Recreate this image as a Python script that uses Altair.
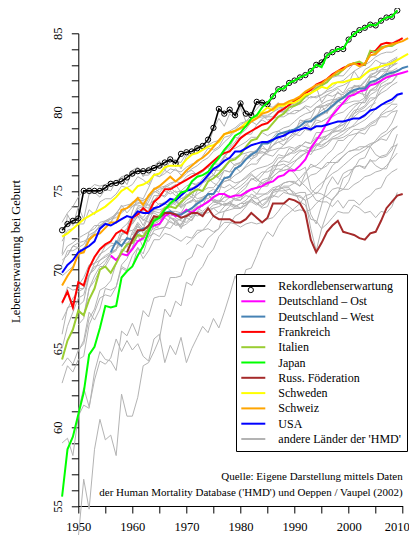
import altair as alt
import pandas as pd

FONT = "Liberation Serif"

# ---------------- legend groups / colours ----------------
groups = ["Rekordlebenserwartung", "Deutschland – Ost", "Deutschland – West", "Frankreich",
          "Italien", "Japan", "Russ. Föderation", "Schweden", "Schweiz", "USA",
          "andere Länder der 'HMD'"]
group_colors = ["#000000", "#FF00FF", "#4682B4", "#FF0000", "#9ACD32", "#00FF00",
                "#A52A2A", "#FFFF00", "#FFA500", "#0000FF", "#B3B3B3"]

# ---------------- record life expectancy (female) ----------------
record_start = 1947
record = [72.5, 72.9, 73.1, 73.25, 75.0, 75.0, 75.0, 75.0, 75.2, 75.45,
          75.5, 75.6, 75.85, 76.1, 76.25, 76.25, 76.3, 76.45, 76.6, 76.8,
          77.0, 76.75, 77.35, 77.45, 77.5, 77.7, 77.85, 78.25, 79.0, 80.2,
          79.9, 80.15, 79.8, 80.55, 79.9, 79.8, 80.65, 80.6, 80.5, 81.0,
          81.45, 81.5, 81.85, 82.0, 82.2, 82.35, 82.6, 83.0, 83.15, 83.6,
          83.8, 84.0, 84.0, 84.6, 84.95, 85.2, 85.35, 85.55, 85.5, 85.8,
          86.0, 86.05, 86.45]

# ---------------- highlighted countries ----------------
ost = [70.9, 70.6, 71.0, 70.9, 71.3, 71.8, 72.0, 72.6, 72.8, 72.9,
       73.4, 73.6, 73.4, 73.5, 73.8, 73.6, 73.9, 74.1, 74.3, 74.6,
       74.8, 74.8, 74.6, 74.7, 74.7, 74.9, 75.1, 75.2, 75.3, 75.5,
       75.6, 75.9, 76.0, 76.3, 76.3, 76.6, 77.0, 77.7, 78.2, 78.7,
       79.3, 79.8, 80.2, 80.6, 81.0, 81.1, 81.3, 81.4, 81.7, 81.8,
       82.0, 82.2, 82.3, 82.4, 82.5, 82.6]
west = [71.1, 71.8, 71.5, 72.0, 71.9, 72.4, 72.6, 72.7, 73.3, 73.3,
        73.6, 73.7, 73.5, 73.5, 73.7, 73.9, 74.2, 74.4, 74.8, 74.8,
        75.3, 75.8, 75.9, 76.4, 76.6, 77.0, 77.3, 77.5, 78.0, 78.0,
        78.2, 78.6, 78.7, 78.8, 78.9, 79.1, 79.4, 79.4, 79.7, 79.9,
        80.1, 80.4, 80.7, 80.9, 81.2, 81.4, 81.5, 81.5, 81.9, 82.0,
        82.2, 82.4, 82.5, 82.6, 82.8, 82.9]
frankreich = [67.9, 68.6, 67.6, 69.2, 69.0, 70.1, 70.8, 71.3, 71.6, 71.8,
              72.3, 72.5, 72.3, 73.3, 73.5, 73.9, 73.6, 74.3, 74.6, 75.1,
              75.1, 75.3, 75.5, 75.7, 75.9, 76.1, 76.3, 76.6, 76.9, 77.2,
              77.4, 77.5, 77.9, 78.35, 78.6, 78.8, 79.0, 79.2, 79.3, 79.6,
              80.0, 80.2, 80.45, 80.7, 80.9, 81.2, 81.4, 81.75, 81.9, 82.1,
              82.4, 82.6, 82.8, 82.95, 83.1, 83.05, 83.0, 83.8, 83.9, 84.3,
              84.4, 84.35, 84.5, 84.7]
italien = [64.3, 65.5, 66.2, 67.4, 67.1, 68.1, 68.8, 70.0, 70.2, 69.8,
           70.4, 71.1, 71.6, 71.7, 72.2, 72.1, 72.6, 73.3, 73.4, 73.9,
           74.0, 73.9, 74.3, 74.6, 74.9, 75.1, 75.0, 75.6, 75.8, 76.1,
           76.5, 76.9, 77.0, 77.3, 77.8, 78.2, 78.3, 78.8, 78.9, 79.3,
           79.7, 79.9, 80.3, 80.4, 80.6, 81.0, 81.2, 81.5, 81.7, 81.9,
           82.3, 82.4, 82.7, 83.0, 83.1, 83.2, 83.0, 83.9, 83.8, 84.1,
           84.2, 84.2, 84.4]
japan = [55.6, 58.6, 59.4, 60.8, 62.2, 64.6, 65.1, 66.3, 67.7, 67.6,
         67.7, 69.5, 69.9, 70.2, 70.9, 71.5, 72.4, 73.1, 73.3, 73.8,
         74.2, 74.5, 74.9, 75.0, 75.6, 75.9, 76.0, 76.2, 76.7, 77.1,
         77.6, 78.0, 78.5, 78.7, 79.1, 79.6, 79.8, 80.3, 80.6, 81.0,
         81.45, 81.5, 81.85, 82.0, 82.2, 82.35, 82.6, 83.0, 82.85, 83.6,
         83.8, 84.0, 84.0, 84.6, 84.95, 85.2, 85.35, 85.55, 85.5, 85.8,
         86.0, 86.05, 86.45]
russland = [71.1, 71.9, 72.5, 72.5, 72.8, 73.4, 73.3, 73.6, 73.6, 73.5,
            73.3, 73.4, 73.6, 73.6, 73.4, 73.9, 73.4, 73.2, 73.2, 73.2,
            73.0, 73.0, 73.2, 73.6, 73.3, 73.0, 73.3, 74.2, 74.2, 74.2,
            74.5, 74.4, 74.2, 73.6, 71.9, 71.1, 71.7, 72.4, 72.8, 73.1,
            72.4, 72.3, 72.2, 72.0, 71.9, 72.3, 72.4, 73.1, 73.9, 74.3,
            74.7, 74.8]
schweden = [72.1, 72.3, 72.6, 72.9, 73.2, 73.4, 73.6, 73.8, 74.0, 74.3,
            74.6, 75.0, 75.2, 74.9, 75.3, 75.4, 75.6, 76.0, 76.1, 76.5,
            76.6, 76.6, 76.6, 77.0, 77.3, 77.4, 77.6, 77.8, 77.9, 78.1,
            78.6, 78.7, 78.8, 79.0, 79.3, 79.5, 79.8, 80.0, 80.3, 80.1,
            80.4, 80.4, 80.6, 80.6, 80.8, 81.1, 81.2, 81.4, 81.6, 81.5,
            81.8, 81.9, 81.9, 82.0, 82.1, 82.1, 82.4, 82.7, 82.8, 82.9,
            83.0, 83.1, 83.3, 83.5, 83.7]
schweiz = [69.0, 69.6, 70.1, 71.0, 71.1, 71.9, 72.2, 72.3, 72.65, 73.0,
           73.0, 73.8, 73.9, 74.2, 74.55, 74.1, 74.7, 75.1, 75.3, 75.6,
           75.9, 75.6, 75.9, 76.3, 76.6, 76.9, 77.1, 77.4, 77.8, 78.2,
           78.6, 78.7, 78.8, 79.0, 79.1, 79.4, 79.6, 79.9, 80.0, 80.2,
           80.5, 80.5, 80.7, 80.8, 81.0, 81.3, 81.5, 81.7, 81.8, 82.1,
           82.3, 82.6, 82.7, 83.0, 83.1, 82.9, 83.1, 83.6, 83.7, 84.0,
           84.2, 84.3, 84.4, 84.5, 84.7]
usa = [69.8, 70.3, 70.6, 71.1, 71.3, 71.5, 71.8, 72.6, 72.9, 72.8,
       73.0, 73.2, 73.4, 73.3, 73.7, 73.6, 73.6, 73.9, 74.0, 74.2,
       74.5, 74.4, 74.7, 75.0, 75.1, 75.3, 75.6, 76.0, 76.4, 76.6,
       76.9, 77.1, 77.5, 77.5, 77.7, 77.9, 78.0, 78.1, 78.1, 78.25,
       78.4, 78.5, 78.7, 78.8, 78.9, 79.0, 78.9, 79.1, 79.1, 79.2,
       79.3, 79.4, 79.4, 79.5, 79.6, 79.6, 79.8, 80.1, 80.2, 80.45,
       80.65, 80.8, 81.1, 81.2]

highlighted = [
    ("Deutschland – Ost", 1956, ost),
    ("Deutschland – West", 1956, west),
    ("Frankreich", 1947, frankreich),
    ("Italien", 1947, italien),
    ("Russ. Föderation", 1959, russland),
    ("Schweden", 1947, schweden),
    ("Schweiz", 1947, schweiz),
    ("USA", 1947, usa),
    ("Japan", 1947, japan),
]

# ---------------- other HMD countries (grey) ----------------
others = [
    ("Norwegen", 1947, [73.0, 73.6, 74.0, 74.6, 75.0, 75.1, 75.4, 75.3, 75.4, 75.6,
                        75.5, 75.9, 76.0, 75.9, 76.3, 76.0, 76.0, 76.4, 76.5, 76.8,
                        76.9, 76.9, 76.8, 77.4, 77.5, 77.6, 77.8, 77.9, 78.1, 78.2,
                        78.6, 78.8, 79.0, 79.3, 79.4, 79.6, 79.7, 79.8, 79.5, 79.6,
                        79.7, 79.7, 79.9, 79.9, 80.1, 80.4, 80.3, 80.6, 80.9, 81.1,
                        81.0, 81.2, 81.1, 81.5, 81.6, 81.6, 82.0, 82.3, 82.5, 82.7,
                        82.7, 82.9, 83.1]),
    ("Niederlande", 1947, [71.8, 72.5, 72.6, 72.9, 72.9, 73.8, 73.5, 74.3, 74.5, 74.5,
                           74.8, 75.3, 75.2, 75.4, 75.9, 75.7, 75.4, 76.1, 75.9, 76.1,
                           76.4, 76.3, 76.2, 76.5, 76.7, 76.8, 77.2, 77.7, 77.6, 77.8,
                           78.4, 78.5, 78.9, 79.2, 79.4, 79.5, 79.6, 79.7, 79.7, 79.7,
                           80.1, 80.0, 79.9, 80.1, 80.1, 80.3, 80.0, 80.3, 80.4, 80.4,
                           80.6, 80.7, 80.5, 80.6, 80.7, 80.7, 80.9, 81.4, 81.6, 81.9,
                           82.3, 82.3, 82.7]),
    ("Island", 1947, [71.0, 73.5, 72.8, 74.0, 73.2, 74.8, 74.9, 74.6, 75.1, 75.0,
                      75.6, 75.9, 75.4, 76.3, 76.5, 75.9, 76.5, 76.6, 76.9, 76.3,
                      76.9, 77.0, 76.4, 77.2, 77.3, 77.8, 77.6, 77.9, 78.9, 79.6,
                      79.1, 79.9, 79.6, 80.3, 79.4, 79.8, 80.2, 80.6, 80.4, 80.3,
                      80.6, 80.0, 80.6, 80.5, 80.7, 80.9, 81.2, 81.6, 80.6, 81.1,
                      81.3, 81.5, 81.2, 81.8, 82.6, 82.1, 82.7, 82.9, 83.3, 83.1,
                      83.0, 83.2, 83.4]),
    ("Dänemark", 1947, [70.9, 71.5, 71.7, 72.0, 72.2, 72.4, 72.8, 72.8, 73.1, 73.2,
                        73.6, 74.0, 74.1, 74.2, 74.4, 74.4, 74.6, 74.9, 75.1, 75.2,
                        75.4, 75.6, 75.5, 75.9, 76.1, 76.1, 76.3, 76.5, 76.7, 76.7,
                        77.2, 77.0, 77.1, 77.3, 77.4, 77.5, 77.4, 77.4, 77.5, 77.6,
                        77.7, 77.7, 77.8, 77.7, 77.9, 77.8, 77.7, 77.9, 77.8, 78.1,
                        78.4, 78.6, 78.8, 79.0, 79.1, 79.3, 79.5, 79.8, 80.2, 80.5,
                        80.5, 80.6, 81.0]),
    ("England und Wales", 1947, [70.3, 71.2, 71.2, 71.4, 71.1, 72.4, 72.6, 73.0, 73.1, 73.3,
                                 73.5, 73.7, 73.9, 74.1, 74.1, 74.0, 73.9, 74.7, 74.7, 74.7,
                                 75.2, 74.9, 75.0, 75.3, 75.5, 75.3, 75.5, 75.7, 76.0, 75.9,
                                 76.3, 76.2, 76.3, 76.8, 77.0, 77.2, 77.3, 77.7, 77.6, 77.9,
                                 78.1, 78.2, 78.4, 78.8, 78.9, 79.2, 79.0, 79.5, 79.4, 79.6,
                                 79.7, 79.9, 80.0, 80.3, 80.5, 80.6, 80.6, 81.1, 81.3, 81.6,
                                 81.8, 81.9, 82.4]),
    ("Schottland", 1947, [67.8, 68.9, 68.7, 68.8, 68.8, 70.2, 70.4, 70.6, 70.8, 71.0,
                          71.3, 71.6, 71.7, 72.0, 71.8, 71.9, 71.8, 72.5, 72.6, 72.7,
                          73.1, 72.8, 72.9, 73.3, 73.6, 73.4, 73.6, 73.8, 74.1, 74.2,
                          74.6, 74.6, 74.7, 75.1, 75.4, 75.7, 75.9, 76.2, 76.2, 76.4,
                          76.8, 76.9, 76.8, 77.2, 77.5, 77.6, 77.5, 78.0, 77.9, 78.1,
                          78.3, 78.3, 78.4, 78.6, 78.9, 78.9, 79.0, 79.3, 79.5, 79.8,
                          80.0, 80.1, 80.4]),
    ("Australien", 1947, [70.6, 70.9, 71.5, 71.7, 71.8, 72.0, 72.4, 72.8, 72.9, 73.0,
                          73.5, 74.1, 73.6, 74.0, 74.3, 74.1, 74.1, 73.9, 74.2, 74.2,
                          74.4, 74.2, 74.5, 74.6, 75.1, 75.4, 75.6, 75.9, 76.6, 77.0,
                          77.5, 77.8, 78.4, 78.3, 78.6, 78.6, 79.2, 79.5, 79.3, 79.7,
                          80.0, 80.0, 80.1, 80.4, 80.5, 80.7, 81.0, 80.9, 81.1, 81.4,
                          81.6, 81.9, 82.0, 82.3, 82.6, 82.8, 83.0, 83.2, 83.5, 83.7,
                          83.8, 83.8, 84.0]),
    ("Kanada", 1947, [69.6, 69.9, 70.2, 70.9, 71.4, 71.8, 72.3, 72.8, 73.0, 73.2,
                      73.3, 73.7, 73.9, 74.3, 74.4, 74.4, 74.6, 75.1, 75.2, 75.3,
                      75.5, 75.6, 75.8, 76.1, 76.4, 76.6, 76.9, 77.1, 77.5, 77.7,
                      78.1, 78.4, 78.8, 78.9, 79.1, 79.4, 79.6, 79.8, 79.8, 80.0,
                      80.2, 80.2, 80.5, 80.8, 80.9, 81.0, 80.9, 81.0, 81.1, 81.3,
                      81.4, 81.6, 81.7, 81.9, 82.1, 82.2, 82.4, 82.6, 82.7, 82.9,
                      83.0, 83.2, 83.4]),
    ("Neuseeland", 1948, [70.9, 71.5, 71.4, 71.6, 72.2, 72.4, 72.7, 73.1, 73.0,
                          73.6, 73.6, 73.9, 74.0, 74.2, 74.3, 74.1, 74.4, 74.8, 74.6,
                          75.0, 74.7, 74.8, 75.1, 75.2, 75.3, 75.8, 76.1, 76.3, 76.3,
                          76.4, 76.9, 76.6, 76.8, 77.3, 77.0, 77.4, 77.5, 77.3, 77.2,
                          77.6, 77.9, 78.2, 78.5, 78.8, 79.1, 79.5, 79.6, 79.8, 80.0,
                          80.3, 80.6, 81.0, 81.1, 81.3, 81.3, 81.6, 81.9, 82.0, 82.2,
                          82.4, 82.6]),
    ("Belgien", 1947, [66.8, 67.5, 68.2, 68.6, 68.8, 69.7, 70.0, 70.6, 70.9, 71.1,
                       71.3, 72.2, 72.6, 72.9, 73.4, 73.2, 73.0, 73.8, 73.8, 73.9,
                       74.3, 74.1, 74.0, 74.2, 74.4, 74.8, 75.0, 75.2, 75.2, 75.6,
                       76.3, 76.2, 76.7, 76.8, 77.1, 77.4, 77.6, 78.0, 78.0, 78.4,
                       78.8, 79.0, 79.1, 79.4, 79.7, 79.9, 80.0, 80.3, 80.5, 80.7,
                       80.8, 80.8, 80.9, 81.0, 81.2, 81.2, 81.1, 81.8, 81.9, 82.3,
                       82.6, 82.6, 82.8]),
    ("Finnland", 1947, [65.9, 67.6, 67.7, 69.0, 69.5, 70.3, 70.4, 71.0, 71.2, 71.5,
                        71.6, 72.2, 72.4, 72.5, 72.7, 72.5, 72.7, 73.0, 73.2, 73.5,
                        73.7, 73.7, 73.6, 74.2, 74.3, 75.0, 75.5, 75.9, 76.3, 76.5,
                        77.1, 77.6, 77.7, 77.9, 78.1, 78.4, 78.4, 78.7, 78.5, 78.7,
                        78.8, 78.6, 78.8, 78.9, 79.3, 79.5, 79.6, 80.3, 80.3, 80.5,
                        80.6, 80.8, 81.0, 81.2, 81.7, 81.6, 81.9, 82.4, 82.5, 83.1,
                        83.1, 83.3, 83.5]),
    ("Österreich", 1947, [65.0, 66.4, 67.3, 68.2, 68.4, 69.6, 70.2, 70.3, 70.6, 71.0,
                          71.3, 71.9, 71.9, 72.0, 72.8, 72.5, 72.4, 73.1, 72.9, 73.6,
                          73.4, 73.5, 73.2, 73.5, 73.7, 74.1, 74.5, 74.5, 74.8, 75.2,
                          75.6, 75.7, 76.0, 76.2, 76.5, 76.7, 76.7, 77.2, 77.4, 77.9,
                          78.3, 78.6, 78.8, 78.9, 79.1, 79.3, 79.5, 79.8, 80.1, 80.3,
                          80.7, 80.9, 81.0, 81.2, 81.6, 81.7, 81.6, 82.2, 82.3, 82.7,
                          82.9, 83.0, 83.1]),
    ("Spanien", 1947, [62.8, 63.9, 63.5, 64.3, 64.5, 66.5, 67.3, 68.2, 68.4, 68.3,
                       68.9, 70.3, 70.7, 71.4, 72.4, 72.0, 72.6, 73.2, 73.4, 73.9,
                       74.1, 74.3, 74.1, 74.8, 74.6, 75.5, 75.6, 75.8, 76.0, 76.6,
                       77.2, 77.7, 78.1, 78.6, 78.9, 79.4, 79.2, 79.6, 79.7, 80.0,
                       80.3, 80.3, 80.4, 80.5, 80.6, 81.1, 81.2, 81.6, 81.7, 81.9,
                       82.2, 82.3, 82.3, 82.7, 83.1, 83.1, 83.0, 83.6, 83.6, 84.2,
                       84.1, 84.3, 84.6]),
    ("Portugal", 1947, [59.0, 59.3, 58.2, 60.7, 61.4, 61.2, 63.5, 64.8, 64.3, 64.2,
                        63.6, 66.1, 65.8, 66.6, 65.8, 67.4, 67.0, 68.2, 68.3, 68.3,
                        69.5, 69.5, 69.6, 70.6, 70.8, 71.6, 71.4, 72.0, 72.3, 72.6,
                        73.7, 74.0, 74.7, 74.9, 75.2, 75.8, 75.6, 76.0, 76.4, 76.6,
                        77.1, 77.1, 77.7, 77.5, 77.8, 78.1, 78.0, 78.7, 78.7, 78.8,
                        78.9, 79.1, 79.4, 79.9, 80.3, 80.6, 80.6, 81.4, 81.4, 82.0,
                        82.2, 82.4, 82.6]),
    ("Land A", 1950, [53.0, 56.7, 54.8, 58.6, 60.5, 59.2, 59.5, 58.2, 62.1, 60.7,
                      60.7, 61.9, 63.9, 64.1, 64.8, 65.6, 67.5, 67.0, 68.0, 67.7,
                      69.2, 69.0, 69.8, 70.2, 70.9, 71.3, 72.1, 72.5, 72.9, 73.4,
                      73.6, 74.0, 74.5, 74.8, 75.3, 75.3, 75.9, 76.2, 76.5, 76.7,
                      76.9, 77.1, 77.4, 77.6, 77.9, 78.1, 78.5, 78.7, 79.0, 79.2,
                      79.6, 79.9, 80.1, 80.3, 80.7, 80.9, 81.2, 81.4, 81.7, 81.9]),
    ("Land B", 1950, [61.0, 62.5, 61.3, 63.0, 64.2, 64.0, 64.4, 65.6, 64.8, 65.5,
                      64.9, 65.3, 64.5, 64.2, 65.6, 65.9, 64.1, 65.2, 64.6, 65.7,
                      64.1, 65.0, 65.7, 66.4, 66.0, 66.9, 66.3, 67.3, 68.4, 69.6,
                      68.8, 70.0, 70.1, 70.9, 71.8, 72.4, 72.1, 72.8, 73.3, 73.6,
                      73.9, 74.2, 74.7, 74.8, 75.2, 75.5, 75.8, 76.1, 76.3, 76.6,
                      76.9, 77.2, 77.4, 77.6, 77.9, 78.1, 78.4, 78.6, 78.9, 79.1]),
    ("Bulgarien", 1947, [63.9, 64.4, 64.0, 64.9, 65.3, 66.9, 67.5, 68.7, 68.9, 69.3,
                         70.4, 71.3, 71.1, 71.4, 72.2, 71.4, 72.4, 72.6, 72.8, 73.3,
                         73.0, 72.9, 72.8, 73.5, 73.3, 73.7, 73.6, 73.6, 73.9, 73.6,
                         73.7, 73.8, 73.9, 73.9, 74.1, 74.4, 74.2, 74.4, 74.5, 74.7,
                         74.6, 74.9, 74.8, 74.7, 74.6, 74.4, 74.6, 74.9, 74.8, 74.6,
                         74.4, 74.9, 75.1, 75.1, 75.4, 75.6, 75.9, 76.0, 76.2, 76.3,
                         76.6, 77.0, 77.4]),
    ("Ungarn", 1950, [64.8, 65.5, 67.3, 66.8, 67.5, 68.8, 68.7, 68.9, 70.1, 69.9,
                      70.2, 71.4, 70.7, 71.2, 71.9, 71.9, 72.3, 72.2, 72.0, 71.8,
                      72.1, 72.0, 72.5, 72.5, 72.6, 72.4, 72.6, 73.0, 73.0, 72.9,
                      72.7, 72.9, 73.0, 72.9, 73.0, 73.2, 73.3, 73.7, 74.2, 74.0,
                      73.7, 73.8, 73.7, 73.8, 74.2, 74.5, 74.7, 75.1, 75.2, 75.1,
                      75.6, 76.5, 76.6, 76.5, 76.9, 76.9, 77.2, 77.3, 77.8, 77.9]),
    ("Tschechien", 1950, [67.7, 68.0, 69.6, 70.4, 70.9, 71.5, 71.7, 71.6, 72.6, 72.9,
                          73.4, 73.6, 73.1, 73.5, 73.6, 73.4, 73.6, 73.3, 73.2, 72.7,
                          72.9, 73.2, 73.6, 73.5, 73.8, 73.9, 74.0, 74.2, 74.2, 74.1,
                          73.9, 74.3, 74.3, 74.1, 74.4, 74.6, 74.6, 75.0, 75.3, 75.3,
                          75.5, 75.8, 76.2, 76.5, 76.6, 76.9, 77.3, 77.6, 78.2, 78.2,
                          78.5, 78.6, 78.7, 78.6, 79.1, 79.2, 79.9, 80.2, 80.5, 80.5]),
    ("Slowakei", 1950, [66.5, 66.9, 68.8, 69.3, 70.0, 70.4, 71.0, 71.2, 72.3, 72.6,
                        72.9, 73.4, 72.8, 73.5, 73.7, 73.6, 74.0, 73.8, 73.3, 73.1,
                        73.0, 73.4, 74.0, 74.1, 74.3, 74.5, 74.3, 74.6, 74.7, 74.4,
                        74.4, 74.7, 74.6, 74.5, 74.7, 74.9, 75.2, 75.3, 75.5, 75.6,
                        75.6, 75.3, 76.1, 76.7, 76.5, 76.4, 76.8, 76.8, 76.8, 77.2,
                        77.5, 77.6, 77.8, 77.8, 78.0, 78.1, 78.3, 78.2, 78.8, 79.1]),
    ("Polen", 1958, [70.2, 70.0, 70.9, 71.4, 71.0, 72.1, 72.3, 72.1, 72.7, 72.6,
                     73.1, 72.6, 73.3, 73.1, 73.7, 74.1, 74.4, 74.4, 74.4, 74.3,
                     74.6, 74.5, 74.4, 75.0, 75.1, 74.8, 74.8, 74.8, 75.1, 75.1,
                     75.5, 75.6, 75.5, 75.3, 75.7, 76.0, 76.1, 76.4, 76.6, 77.0,
                     77.3, 77.5, 78.0, 78.4, 78.8, 78.9, 79.2, 79.4, 79.7, 79.7,
                     80.0, 80.1]),
    ("Litauen", 1959, [72.0, 73.3, 74.0, 73.9, 74.5, 75.2, 74.9, 75.3, 75.2, 75.4,
                       74.9, 75.0, 75.5, 75.4, 75.6, 75.8, 75.5, 75.3, 75.2, 75.4,
                       75.1, 75.3, 75.6, 76.0, 75.8, 75.4, 75.6, 76.6, 76.6, 76.7,
                       76.5, 76.3, 76.3, 76.5, 75.1, 74.8, 75.2, 76.0, 76.6, 76.9,
                       77.2, 77.5, 77.6, 77.6, 77.8, 77.8, 77.3, 77.1, 77.2, 77.6,
                       78.6]),
    ("Lettland", 1959, [72.4, 73.0, 73.6, 73.3, 73.8, 74.4, 74.1, 74.3, 74.3, 74.5,
                        74.0, 74.4, 74.6, 74.3, 74.5, 74.8, 74.3, 74.2, 74.1, 74.2,
                        74.0, 74.2, 74.2, 74.5, 74.2, 74.0, 74.3, 75.0, 75.1, 75.2,
                        75.2, 74.7, 74.7, 74.4, 72.6, 71.2, 72.6, 73.6, 74.5, 74.8,
                        75.8, 76.0, 76.5, 76.6, 76.4, 77.0, 76.6, 76.4, 76.4, 77.2,
                        78.0]),
    ("Estland", 1959, [71.4, 72.4, 73.0, 72.6, 73.4, 73.8, 74.0, 74.2, 74.0, 74.4,
                       73.9, 74.2, 74.4, 74.3, 74.6, 74.8, 74.4, 74.2, 74.1, 74.3,
                       74.0, 74.2, 74.4, 74.8, 74.6, 74.1, 74.4, 75.0, 75.3, 75.1,
                       74.8, 74.8, 74.9, 74.9, 73.5, 72.9, 74.1, 75.3, 75.9, 75.4,
                       76.1, 76.3, 76.4, 77.0, 77.1, 77.8, 78.2, 78.6, 78.8, 79.3,
                       80.1]),
    ("Weißrussland", 1959, [72.6, 73.7, 74.6, 74.5, 75.2, 76.0, 75.9, 76.3, 76.1, 76.4,
                            76.0, 76.2, 76.3, 76.0, 76.2, 76.5, 76.0, 75.8, 75.6, 75.7,
                            75.5, 75.6, 75.8, 76.1, 75.7, 75.5, 75.4, 76.3, 76.4, 76.3,
                            76.4, 76.1, 75.6, 75.3, 74.9, 74.4, 74.3, 74.3, 74.0, 74.4,
                            73.9, 74.4, 74.4, 74.1, 74.5, 74.7, 75.1, 75.2, 75.9, 76.2,
                            76.4]),
    ("Ukraine", 1959, [72.2, 73.1, 73.9, 73.7, 74.3, 75.0, 74.8, 75.0, 74.8, 75.0,
                       74.5, 74.7, 74.8, 74.5, 74.6, 74.8, 74.3, 74.2, 74.1, 74.1,
                       73.9, 73.9, 74.1, 74.5, 74.2, 73.9, 74.0, 74.9, 75.0, 75.0,
                       75.1, 74.9, 74.3, 74.1, 73.2, 73.1, 72.6, 72.9, 73.3, 73.7,
                       73.6, 73.6, 74.1, 73.9, 73.6, 73.7, 73.3, 73.7, 73.6, 74.0,
                       74.9]),
    ("Irland", 1950, [67.3, 67.1, 68.8, 69.6, 70.2, 70.2, 70.8, 70.6, 71.2, 71.6,
                      71.9, 72.2, 72.0, 72.1, 72.8, 72.6, 72.7, 73.3, 73.1, 73.2,
                      73.5, 73.7, 73.9, 73.7, 74.0, 74.3, 74.3, 74.9, 75.1, 75.3,
                      75.6, 75.9, 76.2, 76.4, 76.5, 76.6, 76.8, 77.3, 77.2, 77.3,
                      77.6, 77.8, 78.1, 78.0, 78.4, 78.3, 78.5, 78.8, 78.8, 78.8,
                      79.3, 79.9, 80.4, 80.8, 81.3, 81.6, 82.0, 82.2, 82.3, 82.7]),
    ("Luxemburg", 1960, [72.2, 72.9, 72.3, 72.6, 72.9, 73.1, 73.5, 73.3, 73.0, 72.8,
                         73.4, 73.8, 74.4, 74.0, 74.9, 75.1, 74.9, 75.9, 75.7, 76.5,
                         76.2, 76.6, 77.0, 77.2, 77.9, 77.5, 78.3, 78.4, 78.2, 78.9,
                         78.6, 79.5, 79.4, 79.0, 79.6, 80.4, 79.9, 80.7, 81.3, 80.9,
                         81.4, 81.2, 81.6, 80.9, 82.3, 82.2, 82.0, 82.5, 83.2, 83.3]),
    ("Taiwan", 1970, [71.6, 71.9, 72.3, 72.5, 72.9, 73.4, 73.6, 74.0, 74.3, 74.5,
                      74.6, 74.8, 75.1, 75.2, 75.5, 75.7, 75.9, 76.2, 76.3, 76.4,
                      76.8, 77.2, 77.4, 77.5, 77.6, 77.7, 77.9, 78.3, 78.4, 78.6,
                      78.9, 79.2, 79.6, 79.7, 80.2, 80.8, 81.4, 81.7, 81.9, 82.3]),
    ("Israel", 1983, [76.9, 77.2, 77.6, 77.9, 78.1, 77.9, 78.4, 78.6, 78.5, 78.9,
                      78.8, 79.3, 79.4, 79.6, 79.9, 80.4, 80.5, 80.8, 81.3, 81.5,
                      81.6, 82.2, 82.3, 82.6, 82.6, 82.9, 83.3]),
    ("Slowenien", 1983, [75.2, 75.7, 75.8, 76.1, 76.8, 77.1, 77.4, 77.4, 77.6, 77.5,
                         77.3, 77.8, 78.2, 78.3, 78.7, 78.8, 79.0, 79.6, 80.1, 80.2,
                         80.4, 80.9, 80.9, 81.8, 82.0, 82.3, 82.4]),
    ("Chile", 1992, [77.6, 77.8, 78.3, 78.4, 78.5, 78.8, 79.1, 79.2, 79.5, 79.7,
                     80.0, 80.1, 80.4, 80.6]),
]

# ---------------- source note ----------------
note_texts = ["Quelle: Eigene Darstellung mittels Daten",
              "der Human Mortality Database ('HMD') und Oeppen / Vaupel (2002)"]
note_years = [2010, 2010]
note_values = [56.85, 55.85]

# ---------------- build tables ----------------
OTHER = groups[-1]
REC = groups[0]

grey_rows = []
for country, start, vals in others:
    for i, v in enumerate(vals):
        grey_rows.append({"year": start + i, "value": v, "country": country, "group": OTHER})
grey_df = pd.DataFrame(grey_rows)

rec_df = pd.DataFrame({"year": [record_start + i for i in range(len(record))],
                       "value": record, "group": REC, "marker": REC})

hl_rows = []
for name, start, vals in highlighted:
    for i, v in enumerate(vals):
        hl_rows.append({"year": start + i, "value": v, "group": name})
hl_df = pd.DataFrame(hl_rows)

note_df = pd.DataFrame({"year": note_years, "value": note_values, "text": note_texts})

# ---------------- encodings ----------------
x_enc = alt.X("year:Q",
              scale=alt.Scale(domain=[1950, 2010], nice=False, zero=False),
              axis=alt.Axis(values=list(range(1950, 2011, 5)),
                            labelExpr="datum.value % 10 == 0 ? datum.label : ''",
                            labelOffset={"condition": {"test": "datum.value == 2010", "value": -6},
                                         "value": 0},
                            format="d", title=None, tickSize=7, labelPadding=7,
                            labelFlush=False, labelOverlap=False, grid=False,
                            labelFont=FONT, labelFontSize=12.5, labelColor="black",
                            domainColor="black", tickColor="black"))
y_enc = alt.Y("value:Q",
              scale=alt.Scale(domain=[55, 85], nice=False, zero=False),
              axis=alt.Axis(values=list(range(55, 86)),
                            labelExpr="datum.value % 5 == 0 ? datum.label : ''",
                            title="Lebenserwartung bei Geburt",
                            titleX=-63.3, titleY=217.7, titleAngle=270,
                            titleAlign="center", titleBaseline="middle",
                            titleFont=FONT, titleFontSize=12.5, titleFontWeight="normal",
                            titleColor="black",
                            labelAngle=270, labelAlign="center", labelBaseline="bottom",
                            tickSize=7, labelPadding=7, labelOverlap=False, grid=False,
                            labelFont=FONT, labelFontSize=12.5, labelColor="black",
                            domainColor="black", tickColor="black"))
color_enc = alt.Color("group:N",
                      scale=alt.Scale(domain=groups, range=group_colors),
                      legend=alt.Legend(title=None, orient="none",
                                        legendX=157.7, legendY=240.7,
                                        strokeColor="black", fillColor="white",
                                        padding=6, labelFont=FONT, labelFontSize=12,
                                        labelColor="black", labelOffset=24.3,
                                        symbolType="M-1.675,0H4.325", symbolSize=64,
                                        symbolStrokeWidth=2, rowPadding=3.3,
                                        labelLimit=300))

grey = alt.Chart(grey_df).mark_line(strokeWidth=1).encode(
    x=x_enc, y=y_enc, color=color_enc, detail="country:N")
rec_line = alt.Chart(rec_df).mark_line(strokeWidth=1.6).encode(
    x=x_enc, y=y_enc, color=color_enc)
rec_pts = alt.Chart(rec_df).mark_point(filled=False, size=28, strokeWidth=1,
                                       color="black", opacity=1).encode(
    x=x_enc, y=y_enc,
    shape=alt.Shape("marker:N", scale=alt.Scale(range=["circle"]),
                    legend=alt.Legend(title=None, orient="none",
                                      legendX=169, legendY=253.2,
                                      labelExpr="''", labelFontSize=1,
                                      symbolSize=28, symbolStrokeColor="black",
                                      symbolStrokeWidth=1, padding=0, zindex=1,
                                      labelOffset=0)))
hl = alt.Chart(hl_df).mark_line(strokeWidth=2).encode(
    x=x_enc, y=y_enc, color=color_enc)
note = alt.Chart(note_df).mark_text(align="right", baseline="middle", font=FONT,
                                    fontSize=11, color="black").encode(
    x=x_enc, y=y_enc, text="text:N")

chart = alt.layer(grey, rec_line, rec_pts, hl, note).properties(
    width=324.4, height=472.7,
    autosize=alt.AutoSizeParams(type="none"),
    padding={"left": 70.3, "top": 25.3, "right": 6.3, "bottom": 29},
).configure(font=FONT).configure_view(strokeWidth=0).configure_legend(
    labelFont=FONT).configure_axis(labelFont=FONT, titleFont=FONT)

chart.save("out.html", embed_options={"renderer": "svg", "actions": False})
